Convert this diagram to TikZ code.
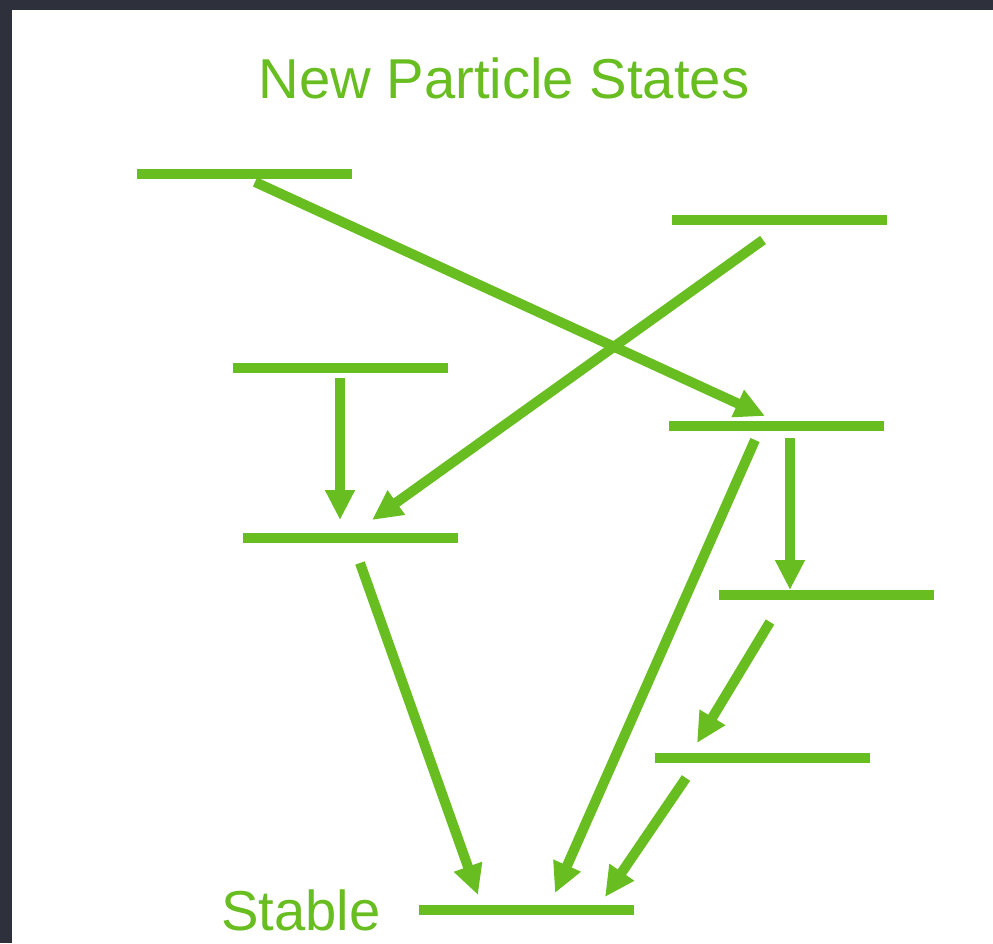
\documentclass[tikz,border=0pt]{standalone}
\usepackage{fontspec}
\setmainfont{Liberation Sans}
\usetikzlibrary{arrows.meta,positioning}
\definecolor{lvlgreen}{RGB}{104,190,32}
\definecolor{slatebg}{RGB}{46,49,60}

\begin{document}
\begin{tikzpicture}[
  level/.style={fill=lvlgreen,inner sep=0pt,
                minimum width=2.15cm,minimum height=0.1cm},
  decay/.style={draw=lvlgreen,line width=0.1cm,
                -{Triangle[length=0.3cm,width=0.28cm]}},
  lbl/.style={text=lvlgreen,inner sep=0pt,font=\fontsize{16}{19}\selectfont}
]
% frame
\fill[slatebg] (0,0) rectangle (9.93,9.43);
\fill[white] (0.12,0) rectangle (9.93,9.33);
\useasboundingbox (0,0) rectangle (9.93,9.43);

\node[lbl,anchor=base] (title) at (5.04,8.45) {New Particle States};

% energy levels
\node[level] (l1) at (2.445,7.69) {};
\node[level] (l2) at (7.795,7.23) {};
\node[level] (l3) at (3.405,5.75) {};
\node[level] (l4) at (7.765,5.17) {};
\node[level] (l5) at (3.500,4.05) {};
\node[level] (l6) at (8.265,3.48) {};
\node[level] (l7) at (7.625,1.85) {};
\node[level] (l8) at (5.265,0.33) {};
\node[lbl,left=0.37cm of l8] (stable) {Stable};

% decays
\draw[decay] ([shift={(0.105,-0.08)}]l1.center)  -- ([shift={(-0.115,0.10)}]l4.center);
\draw[decay] ([shift={(-0.165,-0.20)}]l2.center) -- ([shift={(0.22,0.18)}]l5.center);
\draw[decay] ([shift={(-0.005,-0.10)}]l3.center) -- ([shift={(-0.10,0.18)}]l5.center);
\draw[decay] ([shift={(0.10,-0.25)}]l5.center)   -- ([shift={(-0.485,0.15)}]l8.center);
\draw[decay] ([shift={(-0.215,-0.14)}]l4.center) -- ([shift={(0.285,0.17)}]l8.center);
\draw[decay] ([shift={(0.135,-0.12)}]l4.center)  -- ([shift={(-0.365,0.05)}]l6.center);
\draw[decay] ([shift={(-0.565,-0.27)}]l6.center) -- ([shift={(-0.655,0.15)}]l7.center);
\draw[decay] ([shift={(-0.765,-0.20)}]l7.center) -- ([shift={(0.785,0.13)}]l8.center);
\end{tikzpicture}
\end{document}
